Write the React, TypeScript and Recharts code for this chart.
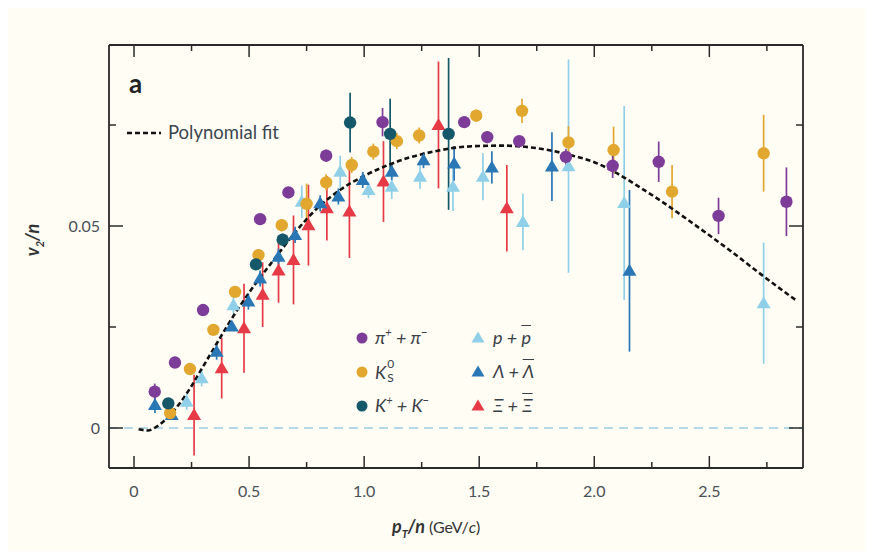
import React from 'react';
import { ComposedChart, Scatter, Line, XAxis, YAxis, ErrorBar, ReferenceLine } from 'recharts';

// ---------- data ----------
const piX = [0.09, 0.178, 0.30, 0.548, 0.671, 0.835, 1.08, 1.435, 1.535, 1.674, 1.877, 2.08, 2.28, 2.54, 2.835];
const piY = [0.009, 0.0162, 0.0292, 0.0517, 0.0583, 0.0674, 0.0757, 0.0757, 0.072, 0.071, 0.0671, 0.0649, 0.0659, 0.0525, 0.056];
const piE = [0.002, 0.001, 0.001, 0.001, 0.001, 0.0015, 0.0035, 0.001, 0.0015, 0.001, 0.002, 0.003, 0.005, 0.0045, 0.0085];

const k0X = [0.157, 0.243, 0.345, 0.439, 0.541, 0.642, 0.75, 0.835, 0.946, 1.04, 1.142, 1.239, 1.487, 1.686, 1.888, 2.084, 2.338, 2.736];
const k0Y = [0.0037, 0.0146, 0.0243, 0.0337, 0.0428, 0.0502, 0.0555, 0.0608, 0.0651, 0.0684, 0.071, 0.0724, 0.0773, 0.0785, 0.0707, 0.0688, 0.0585, 0.068];
const k0E = [0.001, 0.001, 0.001, 0.001, 0.0015, 0.0015, 0.005, 0.002, 0.002, 0.002, 0.002, 0.002, 0.0015, 0.003, 0.004, 0.0058, 0.0066, 0.0095];

const kcX = [0.149, 0.53, 0.646, 0.939, 1.113, 1.367];
const kcY = [0.0061, 0.0405, 0.0466, 0.0756, 0.0728, 0.0728];
const kcE = [0.001, 0.001, 0.0015, 0.0074, 0.0087, 0.0188];

const pX = [0.229, 0.294, 0.432, 0.729, 0.896, 1.019, 1.12, 1.243, 1.386, 1.516, 1.69, 1.888, 2.13, 2.736];
const pY = [0.0065, 0.0123, 0.0304, 0.056, 0.0634, 0.0589, 0.0597, 0.0622, 0.0597, 0.0622, 0.051, 0.0648, 0.0557, 0.0309];
const pE = [0.002, 0.002, 0.002, 0.004, 0.004, 0.002, 0.003, 0.003, 0.006, 0.0058, 0.007, 0.0264, 0.024, 0.015];

const lamX = [0.091, 0.164, 0.359, 0.425, 0.497, 0.548, 0.628, 0.70, 0.809, 0.888, 0.994, 1.12, 1.258, 1.391, 1.555, 1.816, 2.153];
const lamY = [0.0057, 0.0032, 0.0189, 0.0251, 0.0313, 0.037, 0.0424, 0.0478, 0.0556, 0.0573, 0.0614, 0.0634, 0.0663, 0.0655, 0.0645, 0.0647, 0.0389];
const lamE = [0.002, 0.001, 0.002, 0.001, 0.002, 0.002, 0.002, 0.002, 0.002, 0.002, 0.002, 0.002, 0.002, 0.0043, 0.004, 0.0085, 0.02];

const xiX = [0.261, 0.381, 0.478, 0.559, 0.628, 0.693, 0.758, 0.838, 0.936, 1.084, 1.323, 1.62];
const xiY = [0.0032, 0.0148, 0.0247, 0.033, 0.039, 0.0416, 0.0502, 0.0544, 0.0536, 0.061, 0.075, 0.0544];
const xiE = [0.01, 0.0075, 0.011, 0.008, 0.008, 0.011, 0.01, 0.008, 0.0115, 0.01, 0.0157, 0.0107];

const fitX = [0.02, 0.06, 0.10, 0.15, 0.20, 0.25, 0.30, 0.35, 0.40, 0.45, 0.50, 0.55, 0.60, 0.65, 0.70, 0.75, 0.80, 0.85, 0.90, 1.00, 1.10, 1.20, 1.30, 1.40, 1.50, 1.60, 1.70, 1.80, 1.90, 2.00, 2.10, 2.20, 2.30, 2.40, 2.50, 2.60, 2.70, 2.80, 2.88];
const fitY = [-0.0003, -0.0006, 0.0004, 0.0028, 0.0062, 0.0104, 0.0152, 0.0200, 0.0248, 0.0293, 0.0335, 0.0374, 0.0411, 0.0448, 0.0484, 0.0517, 0.0546, 0.0570, 0.0591, 0.0624, 0.0650, 0.0670, 0.0684, 0.0694, 0.0698, 0.0699, 0.0696, 0.0688, 0.0675, 0.0658, 0.0630, 0.0595, 0.0558, 0.0518, 0.0477, 0.0435, 0.0391, 0.0348, 0.0315];

const xTicks = [0, 0.25, 0.5, 0.75, 1, 1.25, 1.5, 1.75, 2, 2.25, 2.5, 2.75];
const yTicks = [0, 0.025, 0.05, 0.075];
const xTickLabels: Record<string, string> = { '0': '0', '0.5': '0.5', '1': '1.0', '1.5': '1.5', '2': '2.0', '2.5': '2.5' };
const yTickLabels: Record<string, string> = { '0': '0', '0.05': '0.05' };

const xDomain: [number, number] = [-0.1087, 2.907];
const yDomain: [number, number] = [-0.0099, 0.0948];

// ---------- styles ----------
const BG = '#fffdf4';
const AX = '#2a2a2a';
const TICK_TXT = '#4a5056';
const FONT = 'Lato, "Open Sans", sans-serif';
const C = {
  pi: '#7d3c98',
  k0: '#e2a72e',
  kc: '#14586a',
  p: '#8fd0e8',
  lam: '#2a77b6',
  xi: '#e63a46',
};

const zip = (xs: number[], ys: number[], es: number[]) => xs.map((x, i) => ({ x, y: ys[i], e: es[i] }));
const piData = zip(piX, piY, piE);
const k0Data = zip(k0X, k0Y, k0E);
const kcData = zip(kcX, kcY, kcE);
const pData = zip(pX, pY, pE);
const lamData = zip(lamX, lamY, lamE);
const xiData = zip(xiX, xiY, xiE);
const fitData = fitX.map((x, i) => ({ x, y: fitY[i] }));

const isMajorX = (v: number) => Math.abs(v * 2 - Math.round(v * 2)) < 1e-6;
const isMajorY = (v: number) => Math.abs(v / 0.05 - Math.round(v / 0.05)) < 1e-6;

const BottomTick = (props: any) => {
  const { x, y, payload } = props;
  const v = payload.value;
  const lbl = xTickLabels[String(v)];
  return (
    <g>
      <line x1={x} x2={x} y1={y} y2={y - (isMajorX(v) ? 12 : 6)} stroke={AX} strokeWidth={1.5} />
      {lbl !== undefined && (
        <text x={x} y={y + 29} textAnchor="middle" fontSize={16} fontFamily={FONT} fill={TICK_TXT}>{lbl}</text>
      )}
    </g>
  );
};
const TopTick = (props: any) => {
  const { x, y, payload } = props;
  const v = payload.value;
  return <line x1={x} x2={x} y1={y} y2={y + (isMajorX(v) ? 12 : 6)} stroke={AX} strokeWidth={1.5} />;
};
const LeftTick = (props: any) => {
  const { x, y, payload } = props;
  const v = payload.value;
  const lbl = yTickLabels[String(v)];
  return (
    <g>
      <line x1={x} x2={x + (isMajorY(v) ? 14 : 7)} y1={y} y2={y} stroke={AX} strokeWidth={1.5} />
      {lbl !== undefined && (
        <text x={x - 9} y={y + 6} textAnchor="end" fontSize={16} fontFamily={FONT} fill={TICK_TXT}>{lbl}</text>
      )}
    </g>
  );
};
const RightTick = (props: any) => {
  const { x, y, payload } = props;
  const v = payload.value;
  return <line x1={x} x2={x - (isMajorY(v) ? 14 : 7)} y1={y} y2={y} stroke={AX} strokeWidth={1.5} />;
};

const circleShape = (color: string) => (props: any) => {
  const { cx, cy } = props;
  if (cx == null || cy == null) return <g />;
  return <circle cx={cx} cy={cy} r={6.2} fill={color} />;
};
const triShape = (color: string) => (props: any) => {
  const { cx, cy } = props;
  if (cx == null || cy == null) return <g />;
  const pts = `${cx},${cy - 7} ${cx - 7},${cy + 5} ${cx + 7},${cy + 5}`;
  return <polygon points={pts} fill={color} />;
};
const emptyShape = () => <g />;

const series = [
  { name: 'xi', data: xiData, color: C.xi, tri: true },
  { name: 'p', data: pData, color: C.p, tri: true },
  { name: 'lam', data: lamData, color: C.lam, tri: true },
  { name: 'k0', data: k0Data, color: C.k0, tri: false },
  { name: 'pi', data: piData, color: C.pi, tri: false },
  { name: 'kc', data: kcData, color: C.kc, tri: false },
];

const legendText: React.CSSProperties = {
  position: 'absolute',
  fontFamily: FONT,
  fontStyle: 'italic',
  fontSize: 18,
  color: '#3a4046',
  lineHeight: '20px',
  whiteSpace: 'nowrap',
};

const Marker = ({ x, y, color, tri }: { x: number; y: number; color: string; tri: boolean }) => (
  <svg style={{ position: 'absolute', left: x - 8, top: y - 8 }} width={16} height={16}>
    {tri ? <polygon points="8,1.5 1.5,12.5 14.5,12.5" fill={color} /> : <circle cx={8} cy={8} r={5.5} fill={color} />}
  </svg>
);

const sup: React.CSSProperties = { fontSize: 11, verticalAlign: 8, lineHeight: 0 };
const ov: React.CSSProperties = { textDecoration: 'overline' };

export default function App() {
  return (
    <div style={{ position: 'relative', width: 873, height: 559, margin: -8, background: BG, overflow: 'hidden' }}>
      <ComposedChart width={873} height={559} margin={{ top: 35, right: 60, bottom: 51, left: 59 }}>
        <XAxis
          xAxisId="b"
          dataKey="x"
          type="number"
          domain={xDomain}
          allowDataOverflow
          ticks={xTicks}
          interval={0}
          orientation="bottom"
          height={40}
          tickSize={0}
          tickMargin={0}
          tickLine={false}
          axisLine={{ stroke: AX, strokeWidth: 1.8 }}
          tick={BottomTick}
        />
        <XAxis
          xAxisId="t"
          dataKey="x"
          type="number"
          domain={xDomain}
          allowDataOverflow
          ticks={xTicks}
          interval={0}
          orientation="top"
          height={10}
          tickSize={0}
          tickMargin={0}
          tickLine={false}
          axisLine={{ stroke: AX, strokeWidth: 1.8 }}
          tick={TopTick}
        />
        <YAxis
          yAxisId="l"
          type="number"
          domain={yDomain}
          allowDataOverflow
          ticks={yTicks}
          interval={0}
          orientation="left"
          width={50}
          tickSize={0}
          tickMargin={0}
          tickLine={false}
          axisLine={{ stroke: AX, strokeWidth: 1.8 }}
          tick={LeftTick}
        />
        <YAxis
          yAxisId="r"
          type="number"
          domain={yDomain}
          allowDataOverflow
          ticks={yTicks}
          interval={0}
          orientation="right"
          width={10}
          tickSize={0}
          tickMargin={0}
          tickLine={false}
          axisLine={{ stroke: AX, strokeWidth: 1.8 }}
          tick={RightTick}
        />
        <ReferenceLine xAxisId="b" yAxisId="l" y={0} stroke="#9ecde2" strokeWidth={1.3} strokeDasharray="9 6" />
        <Scatter xAxisId="t" yAxisId="r" data={fitData} dataKey="y" shape={emptyShape} isAnimationActive={false} />
        {series.map((s) => (
          <Scatter
            key={s.name}
            xAxisId="b"
            yAxisId="l"
            data={s.data}
            dataKey="y"
            shape={s.tri ? triShape(s.color) : circleShape(s.color)}
            isAnimationActive={false}
          >
            <ErrorBar dataKey="e" direction="y" width={0} stroke={s.color} strokeWidth={1.7} isAnimationActive={false} />
          </Scatter>
        ))}
        <Line
          xAxisId="b"
          yAxisId="l"
          data={fitData}
          dataKey="y"
          type="monotone"
          stroke="#111"
          strokeWidth={2.6}
          strokeDasharray="5 3"
          dot={false}
          activeDot={false}
          isAnimationActive={false}
        />
      </ComposedChart>

      {/* panel label */}
      <div style={{ position: 'absolute', left: 129, top: 68, fontFamily: FONT, fontWeight: 700, fontSize: 26, color: '#222', lineHeight: '30px' }}>a</div>

      {/* fit legend */}
      <svg style={{ position: 'absolute', left: 126, top: 128 }} width={40} height={10}>
        <line x1={1} x2={35} y1={5} y2={5} stroke="#111" strokeWidth={2.6} strokeDasharray="5 3" />
      </svg>
      <div style={{ position: 'absolute', left: 168, top: 121, fontFamily: FONT, fontSize: 18.5, color: '#3a4650', lineHeight: '22px' }}>Polynomial fit</div>

      {/* species legend */}
      <Marker x={362} y={338} color={C.pi} tri={false} />
      <div style={{ ...legendText, left: 375, top: 327 }}>π<span style={sup}>+</span> + π<span style={sup}>−</span></div>
      <Marker x={362} y={372} color={C.k0} tri={false} />
      <div style={{ ...legendText, left: 375, top: 359 }}>
        K<span style={{ display: 'inline-block', position: 'relative', width: 9, height: 20 }}>
          <span style={{ position: 'absolute', left: 1, top: -5, fontSize: 12, fontStyle: 'normal' }}>0</span>
          <span style={{ position: 'absolute', left: 1, top: 9, fontSize: 12, fontStyle: 'normal' }}>S</span>
        </span>
      </div>
      <Marker x={362} y={406} color={C.kc} tri={false} />
      <div style={{ ...legendText, left: 375, top: 395 }}>K<span style={sup}>+</span> + K<span style={sup}>−</span></div>

      <Marker x={478} y={338} color={C.p} tri={true} />
      <div style={{ ...legendText, left: 493, top: 327 }}>p + <span style={ov}>p</span></div>
      <Marker x={478} y={372} color={C.lam} tri={true} />
      <div style={{ ...legendText, left: 493, top: 361 }}>Λ + <span style={ov}>Λ</span></div>
      <Marker x={478} y={406} color={C.xi} tri={true} />
      <div style={{ ...legendText, left: 493, top: 395 }}>Ξ + <span style={ov}>Ξ</span></div>

      {/* axis titles */}
      <div style={{ position: 'absolute', left: 392, top: 514, fontFamily: FONT, fontSize: 18, color: '#333', lineHeight: '24px', whiteSpace: 'nowrap' }}>
        <span style={{ fontWeight: 700, fontStyle: 'italic' }}>p</span>
        <span style={{ fontWeight: 700, fontStyle: 'italic', fontSize: 11, verticalAlign: -5 }}>T</span>
        <span style={{ fontWeight: 700, fontStyle: 'italic' }}>/n</span>
        <span style={{ fontSize: 16 }}> (GeV/</span>
        <span style={{ fontSize: 16, fontStyle: 'italic' }}>c</span>
        <span style={{ fontSize: 16 }}>)</span>
      </div>
      <div
        style={{
          position: 'absolute',
          left: 36,
          top: 240,
          transform: 'translate(-50%, -50%) rotate(-90deg)',
          fontFamily: FONT,
          fontSize: 18,
          color: '#333',
          lineHeight: '24px',
          whiteSpace: 'nowrap',
          fontWeight: 700,
          fontStyle: 'italic',
        }}
      >
        v<span style={{ fontSize: 11, verticalAlign: -5 }}>2</span>/n
      </div>
    </div>
  );
}
